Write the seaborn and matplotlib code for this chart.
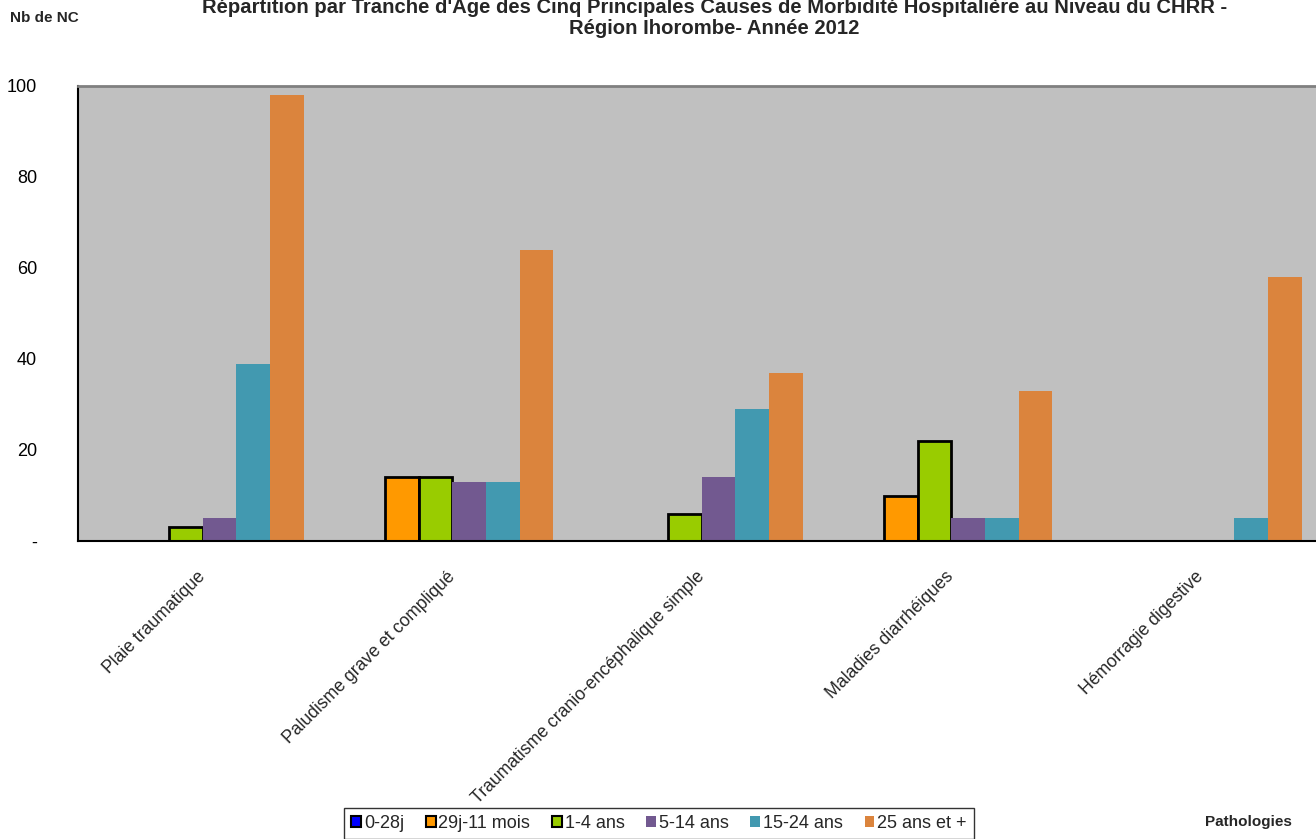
import matplotlib
matplotlib.use("Agg")
import matplotlib.pyplot as plt
from matplotlib.patches import Patch
import numpy as np
import pandas as pd
import seaborn as sns

# categories (x axis) and age groups (hue)
pathologies = ['Plaie traumatique', 'Paludisme grave et compliqué',
               'Traumatisme cranio-encéphalique simple', 'Maladies diarrhéiques',
               'Hémorragie digestive']
tranches = ['0-28j', '29j-11 mois', '1-4 ans', '5-14 ans', '15-24 ans', '25 ans et +']

# values per age group, one entry per pathology
v_0_28j = [0, 0, 0, 0, 0]
v_29j_11m = [0, 14, 0, 10, 0]
v_1_4 = [3, 14, 6, 22, 0]
v_5_14 = [5, 13, 14, 5, 0]
v_15_24 = [39, 13, 29, 5, 5]
v_25_plus = [98, 64, 37, 33, 58]

colors = ['#0000FF', '#FF9900', '#99CC00', '#725990', '#4299B0', '#DB843D']
bordered = ['0-28j', '29j-11 mois', '1-4 ans']

sns.set_style('white')
plt.rcParams['font.family'] = ['Liberation Sans', 'DejaVu Sans']

series = [v_0_28j, v_29j_11m, v_1_4, v_5_14, v_15_24, v_25_plus]
rows = []
for t, vals in zip(tranches, series):
    for p, v in zip(pathologies, vals):
        rows.append({'Pathologie': p, 'Tranche': t, 'Nb': v})
df = pd.DataFrame(rows)

fig = plt.figure(figsize=(13.16, 8.39), dpi=100)
ax = fig.add_axes([78 / 1316, (839 - 541) / 839, (1325.5 - 78) / 1316, (541 - 86) / 839])
ax.set_facecolor('#C0C0C0')

sns.barplot(data=df, x='Pathologie', y='Nb', hue='Tranche', order=pathologies,
            hue_order=tranches, palette=colors, width=0.81, gap=0,
            errorbar=None, saturation=1, linewidth=0, ax=ax, legend=False)

# black outline on the first three age groups (only where a bar exists)
for t, cont in zip(tranches, ax.containers):
    for bar in cont:
        if t in bordered and bar.get_height() > 0:
            bar.set_edgecolor('black')
            bar.set_linewidth(2)

ax.set_xlim(-0.5, len(pathologies) - 0.5)
ax.set_ylim(0, 100)
ax.set_yticks(np.arange(0, 101, 20))
ax.set_yticklabels(['-', '20', '40', '60', '80', '100'])
ax.tick_params(axis='y', direction='out', length=4.5, width=1, pad=25,
               labelsize=13, colors='black')

ax.set_xticks(range(len(pathologies)))
ax.set_xticklabels(pathologies, rotation=45, ha='right', va='center',
                   rotation_mode='anchor', fontsize=12.7)
ax.set_xticks(np.arange(-0.5, len(pathologies), 1), minor=True)
ax.tick_params(axis='x', which='major', length=0, pad=24)
ax.tick_params(axis='x', which='minor', direction='out', length=6, width=1)
ax.set_xlabel('')
ax.set_ylabel('')

for side in ['left', 'bottom']:
    ax.spines[side].set_color('black')
    ax.spines[side].set_linewidth(1.5)
ax.spines['top'].set_color('#808080')
ax.spines['top'].set_linewidth(2)
ax.spines['right'].set_visible(False)

fig.text(0.543, 1 - 18 / 839,
         "Répartition par Tranche d'Age des Cinq Principales Causes de Morbidité Hospitalière au Niveau du CHRR -\n"
         "Région Ihorombe- Année 2012",
         ha='center', va='center', fontsize=14.6, fontweight='bold', linespacing=1.15)
fig.text(10 / 1316, 1 - 18 / 839, 'Nb de NC', ha='left', va='center',
         fontsize=11, fontweight='bold')
fig.text(1205 / 1316, 1 - 822 / 839, 'Pathologies', ha='left', va='center',
         fontsize=11, fontweight='bold')

handles = []
for t, c in zip(tranches, colors):
    if t in bordered:
        handles.append(Patch(facecolor=c, edgecolor='black', linewidth=1.5, label=t))
    else:
        handles.append(Patch(facecolor=c, edgecolor='none', label=t))
leg = fig.legend(handles=handles, loc='upper center', ncol=6,
                 bbox_to_anchor=(659 / 1316, 1 - 808 / 839), bbox_transform=fig.transFigure,
                 frameon=True, fancybox=False, fontsize=13, handlelength=0.55,
                 handleheight=0.55, handletextpad=0.15, columnspacing=1.2,
                 borderpad=0.4, borderaxespad=0)
leg.get_frame().set_edgecolor('black')
leg.get_frame().set_linewidth(1)

fig.savefig('out.png', dpi=100)
